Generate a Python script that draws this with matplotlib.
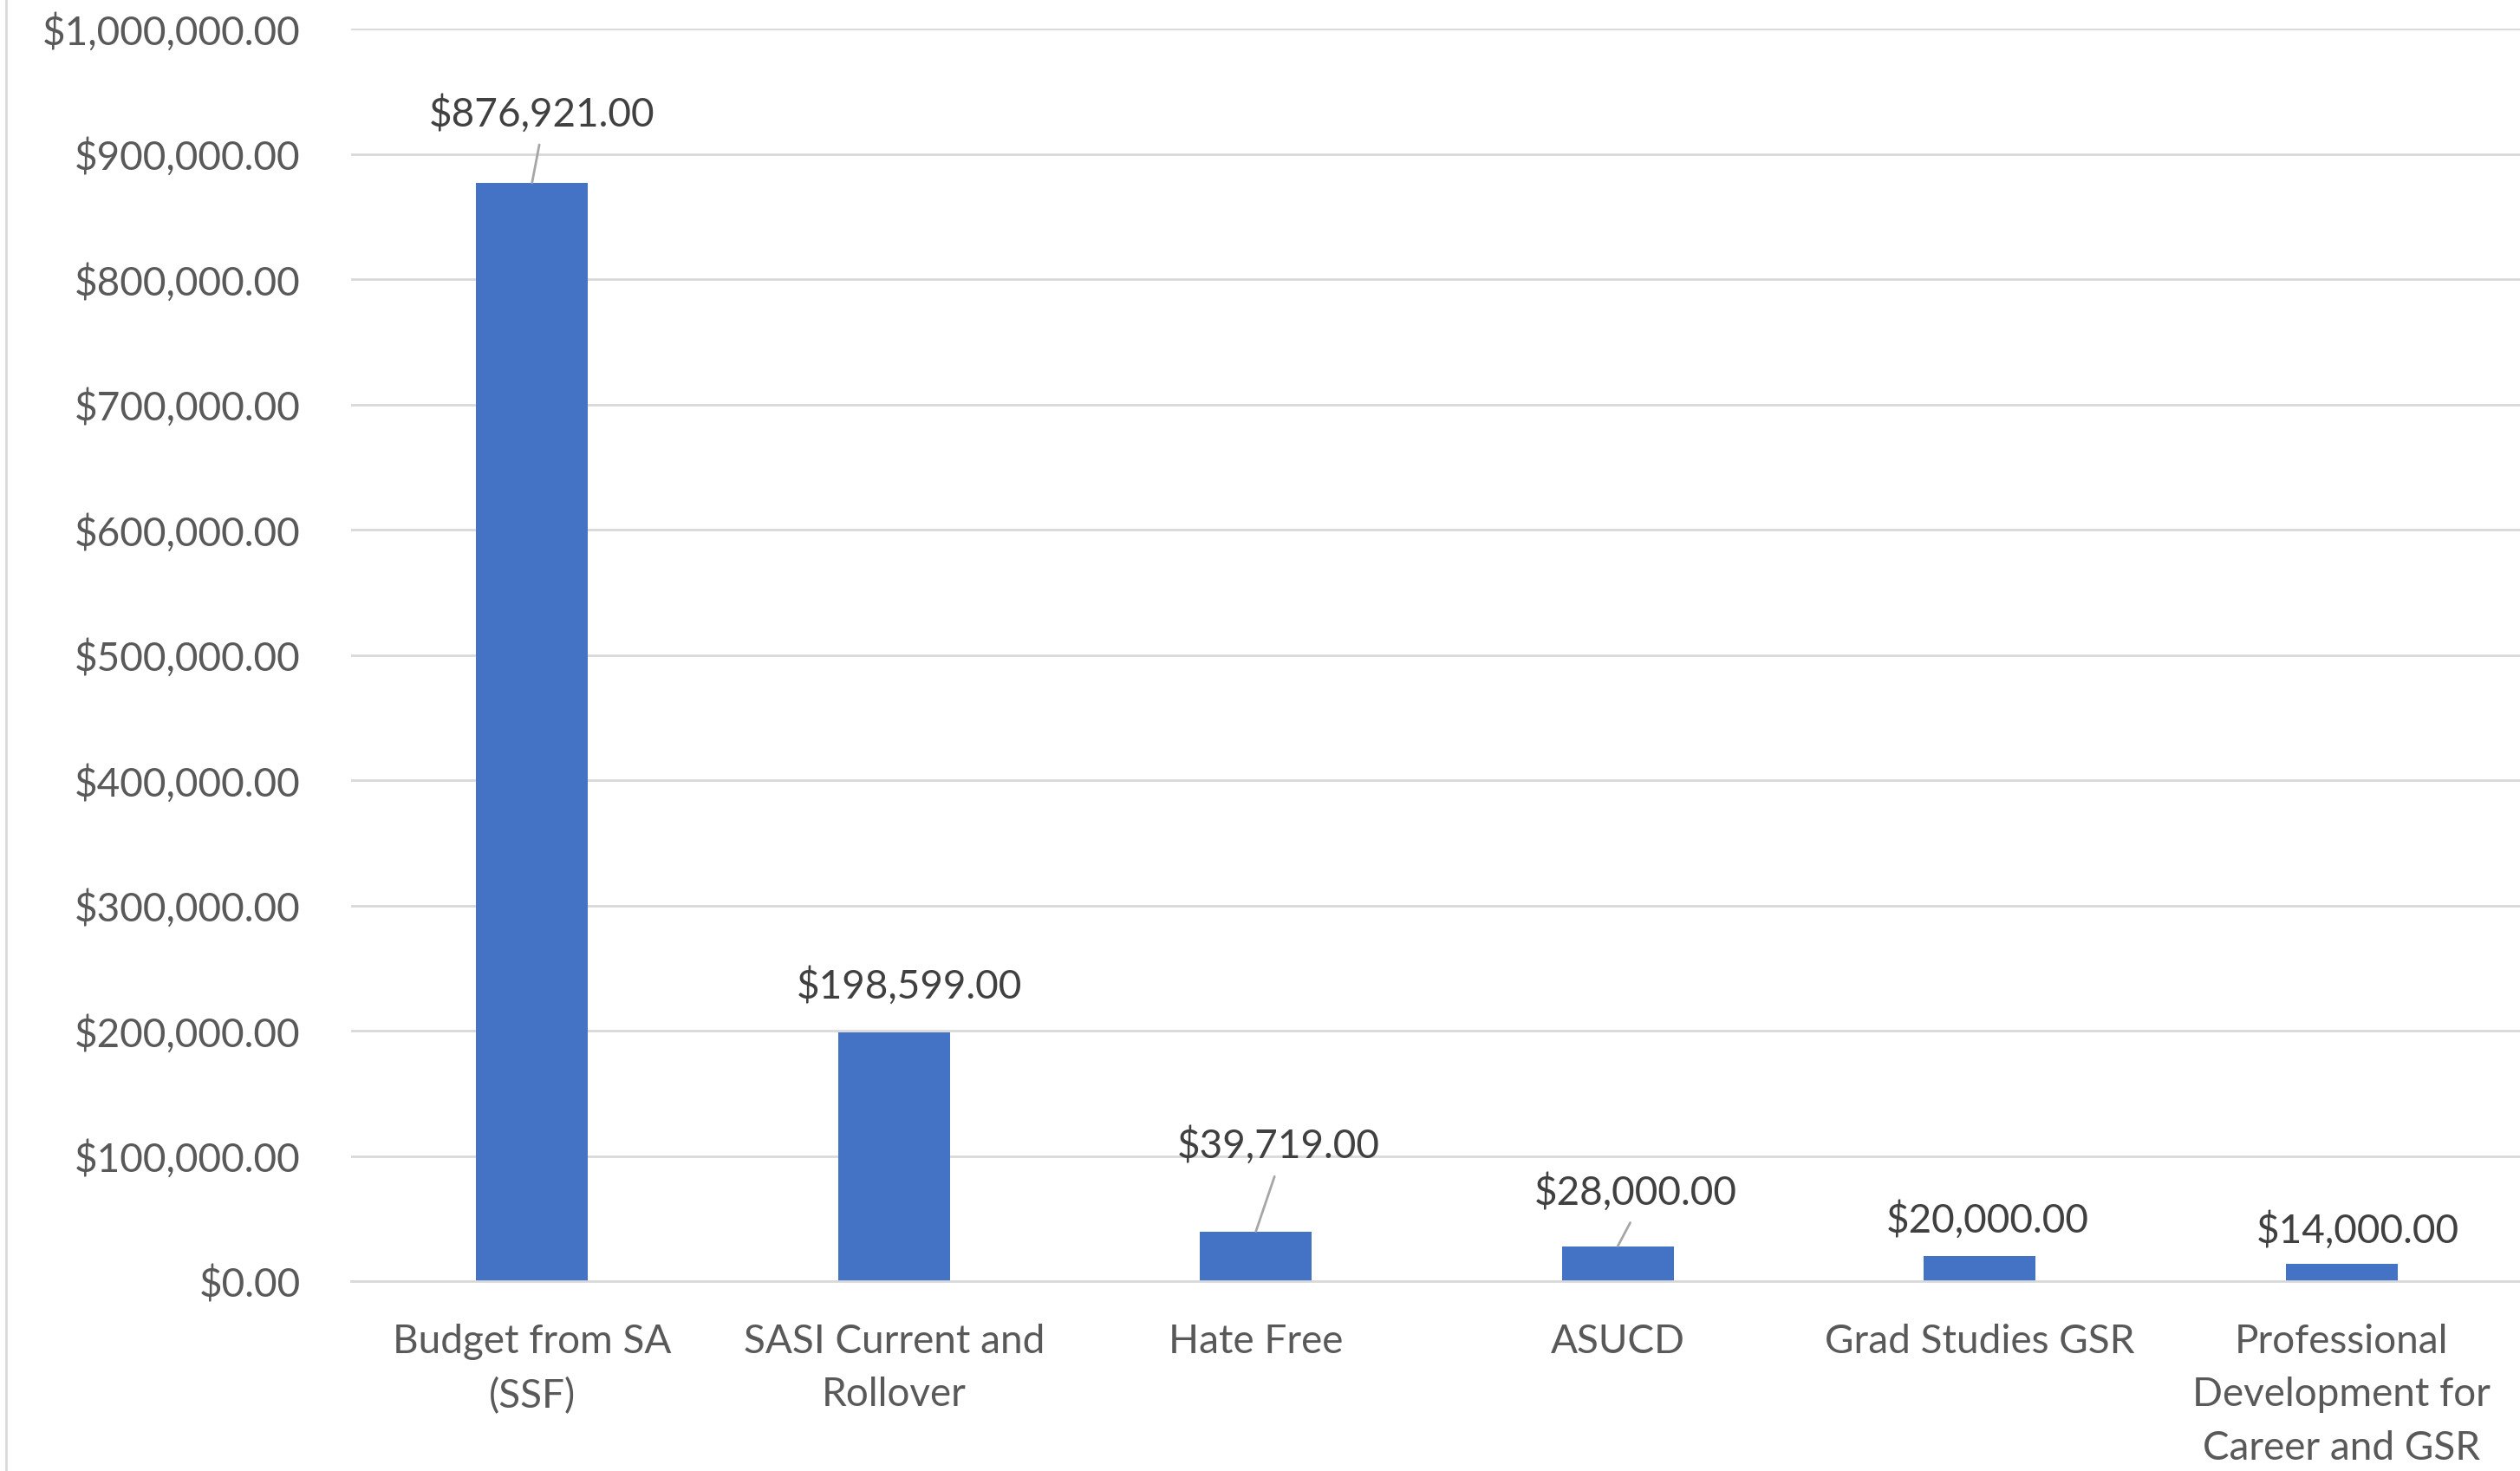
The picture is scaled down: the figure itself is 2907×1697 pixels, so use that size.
import matplotlib
matplotlib.use("Agg")
import matplotlib.pyplot as plt
from matplotlib.lines import Line2D
from matplotlib.ticker import FuncFormatter, MultipleLocator

categories = ["Budget from SA\n(SSF)", "SASI Current and\nRollover", "Hate Free",
              "ASUCD", "Grad Studies GSR", "Professional\nDevelopment for\nCareer and GSR"]
values = [876921, 198599, 39719, 28000, 20000, 14000]

# label placement (pixels relative to bar top) and whether a leader line is shown
label_dx = [11, 18, 26, 21, 9, 19]
label_dy = [80, 54, 99, 62, 42, 38]
leader = [True, False, True, True, False, False]

plt.rcParams['font.family'] = ['Lato', 'DejaVu Sans']
W, H = 2907, 1697
FS = 33
fig = plt.figure(figsize=(W / 100, H / 100), dpi=100)
fig.patch.set_facecolor('white')

left = 405 / W
right = 2910 / W
bottom = (H - 1478) / H
top = (H - 33) / H
ax = fig.add_axes([left, bottom, right - left, top - bottom])

x = list(range(len(values)))
ax.bar(x, values, width=0.31, color='#4472C4', zorder=3)
ax.set_xlim(-0.5, len(values) - 0.5)
ax.set_ylim(0, 1_000_000)
ax.yaxis.set_major_locator(MultipleLocator(100_000))
ax.yaxis.set_major_formatter(FuncFormatter(lambda v, p: f"${v:,.2f}"))
ax.grid(axis='y', color='#d9d9d9', linewidth=2, zorder=0)
ax.set_axisbelow(True)
for s in ['top', 'right', 'left']:
    ax.spines[s].set_visible(False)
ax.spines['bottom'].set_color('#d9d9d9')
ax.spines['bottom'].set_linewidth(2)
ax.spines['bottom'].set_zorder(4)

ax.set_xticks(x)
ax.set_xticklabels(categories, fontsize=FS, color='#595959', linespacing=1.58)
ax.tick_params(axis='x', length=0, pad=35)
ax.tick_params(axis='y', length=0, pad=42, labelsize=FS, labelcolor='#595959')

for i, v in enumerate(values):
    txt = f"${v:,.2f}"
    kw = {}
    if leader[i]:
        kw['arrowprops'] = dict(arrowstyle='-', color='#a6a6a6', lw=2,
                                shrinkA=8, shrinkB=0, relpos=(0.5, 0.0))
    ax.annotate(txt, xy=(i, v), xytext=(label_dx[i], label_dy[i]),
                textcoords='offset pixels', ha='center', va='center',
                fontsize=FS, color='#404040', zorder=5, **kw)

fig.add_artist(Line2D([7 / W, 7 / W], [0, 1], transform=fig.transFigure,
                      color='#d9d9d9', linewidth=2))

fig.savefig('out.png', dpi=100, facecolor='white')
